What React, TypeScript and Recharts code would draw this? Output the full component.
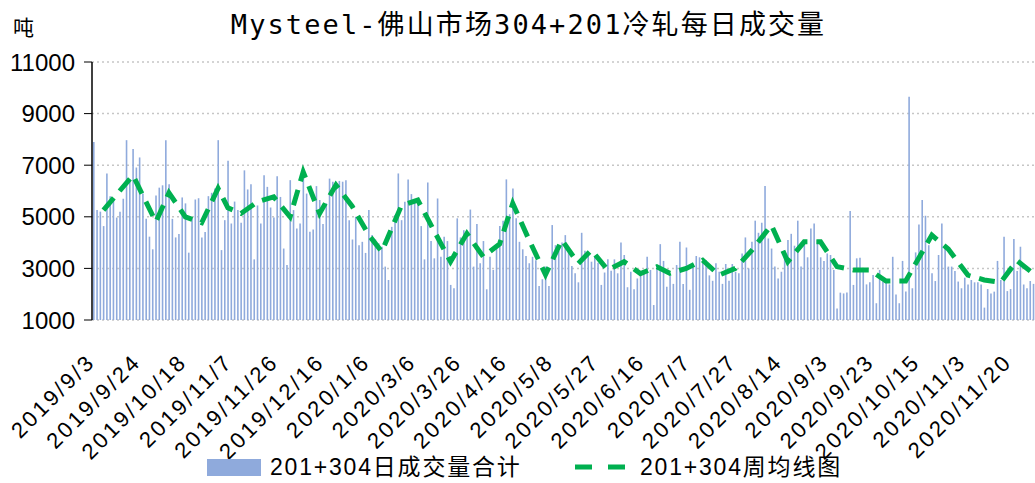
import React from 'react';
import { ComposedChart, Bar, Line, XAxis, YAxis, CartesianGrid, Legend } from 'recharts';

// tick labels, one every 14 trading days
const tickDates = [
  '2019/9/3', '2019/9/24', '2019/10/18', '2019/11/7', '2019/11/26', '2019/12/16', '2020/1/6',
  '2020/3/6', '2020/3/26', '2020/4/16', '2020/5/8', '2020/5/27', '2020/6/16', '2020/7/7',
  '2020/7/27', '2020/8/14', '2020/9/3', '2020/9/23', '2020/10/15', '2020/11/3', '2020/11/20',
];

// daily 201+304 volume (tons)
const dailyA = [
  7900, 5260, 5200, 4640, 6680, 5800, 5650, 4970, 5200, 5700,
  7970, 6450, 7630, 6910, 7300, 5900, 4920, 4230, 3740, 5830,
  6130, 6220, 7970, 6260, 4920, 4200, 4330, 5750, 5520, 3610,
  4970, 5670, 5720, 4200, 4410, 5800, 5930, 6100, 7970, 3710,
  4870, 7170, 4740, 5590, 5260, 4770, 6800, 6060, 6260, 3350,
  5440, 4740, 6610, 6160, 5360, 4970, 6570,
];
const dailyB = [
  5770, 3770, 3130, 6420, 5260, 4550, 4740, 6800, 5900, 4420, 4510,
  6190, 5650, 4720, 5520, 6480, 6360, 6290, 6390, 6360, 6420,
  4870, 4120, 5000, 3900, 4030, 3600, 5260, 4290, 4120, 3970, 3840,
  3070, 2550, 4610, 5070, 6680, 4870, 5580, 6450, 5880, 5670,
  5620, 4640, 3350, 6330, 4060, 3390, 5710, 3450, 4230, 4060,
  2360, 2230, 4940, 4200, 4480, 4300,
];
const dailyC = [
  5280, 3070, 4720, 3200, 4060, 2190, 3450, 2940, 3840, 4640,
  4850, 6450, 5100, 6100, 4940, 4030, 3740, 3480, 3200, 3450,
  3320, 2320, 2580, 3070, 2320, 4680, 3900, 3680, 4000, 4290,
  3650, 3090, 2810, 2460, 4380, 3680, 3580, 3260, 3450, 3220,
  2360, 2840, 3350, 2910, 3350, 2810, 4000, 3520, 2270, 2870,
  2190, 2610, 2710, 2940, 3450, 2940, 1580,
];
const dailyD = [
  3130, 3940, 3290, 2290, 2710, 2400, 3130, 4030, 2400, 3810,
  2170, 3040, 3480, 3430, 3260, 3320, 2730, 2520, 3200, 2870,
  2400, 3170, 2520, 3170, 2870, 2810, 3580, 4200, 3000, 4030,
  4850, 4380, 4770, 6190, 4160, 3770, 3070, 2610, 2870, 3580,
  4100, 4340, 3880, 4850, 3070, 3900, 3430, 4550, 4740, 4100,
  3430, 3290, 3580, 3520, 2940, 1450, 2060,
];
const dailyE = [
  2030, 2070, 5220, 2360, 3390, 3410, 2870, 2380, 2460, 2740,
  1650, 2940, 2490, 2490, 2380, 3450, 1990, 1650, 3290, 2100,
  9650, 2230, 3620, 4700, 5650, 5040, 3900, 2810, 2510, 3520,
  4740, 3900, 3070, 3070, 2900, 2490, 2230, 2640, 2380, 2550,
  2460, 2460, 2380, 1480, 2200, 2030, 2100, 3290, 2550, 4230,
  2120, 2200, 4140, 2900, 3840, 2380, 2230, 2510, 2400,
];
const daily = [...dailyA, ...dailyB, ...dailyC, ...dailyD, ...dailyE];

// weekly average: trading-day index of each weekly point and its value
const weekDay = [
  3, 12, 19, 23, 28, 33, 38, 41, 45, 50, 55, 60, 64, 69, 74, 79, 84, 88, 94, 99,
  104, 109, 114, 119, 124, 128, 133, 138, 143, 148, 152, 157, 162, 167, 172, 176,
  181, 186, 191, 196, 201, 207, 212, 217, 222, 227, 232, 237, 242, 248, 256, 261,
  267, 272, 277, 282, 287,
];
const weekAvg = [
  5260, 6610, 4800, 5930, 5000, 4770, 6100, 5350, 5130, 5580, 5770, 5000, 6740, 5130, 6230, 5400, 4300, 3650, 5430, 5650,
  4450, 3260, 4350, 3450, 3950, 5520, 4100, 2760, 4100, 3190, 3710, 2940, 3260, 2800, 3060, 2810,
  3000, 3320, 2740, 3000, 3700, 4680, 3260, 4030, 4030, 3070, 2940, 2940, 2510, 2510, 4290, 3750,
  2740, 2550, 2460, 3300, 2800,
];

const rows: { day: number; daily: number; weekly: number | null }[] = daily.map((v, i) => ({ day: i, daily: v, weekly: null }));
weekDay.forEach((d, k) => {
  if (rows[d]) rows[d].weekly = weekAvg[k];
});

const BLUE = '#8FAADC';
const GREEN = '#00B050';

const DateTick = (props: any) => {
  const { x, y, payload } = props;
  const ax = x + 3;
  const ay = y + 43;
  return (
    <text
      x={ax}
      y={ay}
      transform={`rotate(-45, ${ax}, ${ay})`}
      textAnchor="end"
      fontSize={22}
      letterSpacing={2.8}
      fontFamily="'Liberation Sans', Arial, sans-serif"
      fill="#000"
    >
      {tickDates[payload.value / 14]}
    </text>
  );
};

const LegendBox = () => (
  <div style={{ position: 'relative', width: 1035, height: 30, fontFamily: "'Liberation Sans', 'Noto Sans CJK SC', sans-serif", fontSize: 23, color: '#000' }}>
    <div style={{ position: 'absolute', left: 207, top: 7, width: 54, height: 17, background: BLUE }} />
    <div style={{ position: 'absolute', left: 270, top: 0, lineHeight: '30px', letterSpacing: 1.8, whiteSpace: 'nowrap' }}>201+304日成交量合计</div>
    <svg style={{ position: 'absolute', left: 570, top: 0 }} width={60} height={30}>
      <line x1={5} y1={15} x2={55} y2={15} stroke={GREEN} strokeWidth={5} strokeDasharray="17 16" />
    </svg>
    <div style={{ position: 'absolute', left: 640, top: 0, lineHeight: '30px', letterSpacing: 1.8, whiteSpace: 'nowrap' }}>201+304周均线图</div>
  </div>
);

export default function App() {
  return (
    <div style={{ position: 'absolute', left: 0, top: 0, width: 1035, height: 483, background: '#fff', overflow: 'hidden' }}>
      <div
        style={{
          position: 'absolute', left: 0, width: 1035, top: 6, textAlign: 'center', paddingLeft: 11,
          fontFamily: "'DejaVu Sans Mono', 'Noto Sans CJK SC', monospace", fontSize: 27, letterSpacing: 2.1,
          lineHeight: '38px', color: '#000', whiteSpace: 'nowrap',
        }}
      >
        Mysteel-佛山市场304+201冷轧每日成交量
      </div>
      <div style={{ position: 'absolute', left: 13, top: 12, fontFamily: "'Noto Sans CJK SC', sans-serif", fontSize: 21, lineHeight: '28px', color: '#000' }}>
        吨
      </div>
      <ComposedChart width={1035} height={483} data={rows} margin={{ top: 62, right: 0, bottom: 0, left: 0 }} barCategoryGap={0}>
        <CartesianGrid vertical={false} stroke="#c6c6c6" strokeDasharray="2 3" strokeWidth={1.5} />
        <XAxis
          dataKey="day"
          type="category"
          interval={13}
          height={163}
          axisLine={false}
          tickLine={false}
          tickSize={0}
          tickMargin={0}
          tick={<DateTick />}
        />
        <YAxis
          width={92}
          domain={[1000, 11000]}
          ticks={[1000, 3000, 5000, 7000, 9000, 11000]}
          axisLine={{ stroke: '#000', strokeWidth: 1.5 }}
          tickLine={{ stroke: '#000' }}
          tickSize={8}
          tickMargin={9}
          tick={{ fontSize: 24, fill: '#000', fontFamily: "'Liberation Sans', Arial, sans-serif" }}
        />
        <Legend verticalAlign="middle" align="center" layout="horizontal" wrapperStyle={{ top: 452, left: 0, width: 1035, height: 30 }} content={<LegendBox />} />
        <Bar dataKey="daily" name="201+304日成交量合计" fill={BLUE} barSize={1.6} isAnimationActive={false} />
        <Line
          dataKey="weekly"
          name="201+304周均线图"
          type="linear"
          stroke={GREEN}
          strokeWidth={5}
          strokeDasharray="16 9"
          dot={false}
          activeDot={false}
          connectNulls
          isAnimationActive={false}
        />
      </ComposedChart>
    </div>
  );
}
